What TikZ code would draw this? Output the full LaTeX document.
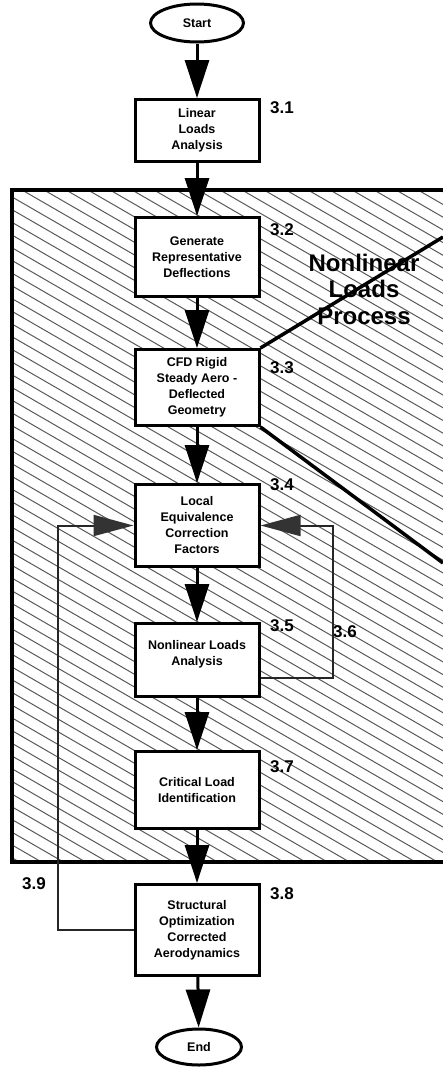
\documentclass[tikz,border=0pt]{standalone}
\usepackage{fontspec}
\setmainfont{Liberation Sans}
\usetikzlibrary{shapes.geometric,arrows.meta}
\begin{document}
\begin{tikzpicture}[x=1pt,y=-1pt,
  box/.style={draw,line width=3pt,fill=white,minimum width=124pt,inner sep=2pt,align=center,
    font=\bfseries\fontsize{12.5}{16}\selectfont},
  term/.style={draw,ellipse,line width=3pt,fill=white,inner sep=0pt,
    font=\bfseries\fontsize{12.5}{14}\selectfont},
  num/.style={anchor=west,inner sep=0pt,font=\bfseries\fontsize{17}{20}\selectfont},
  flow/.style={line width=3pt,-{Triangle[length=38pt,width=24pt]}},
  loopline/.style={line width=2pt,draw=black!85,-{Triangle[length=40pt,width=21pt,color=black!80,fill=black!80]}},
  hatch/.style={line width=1pt,draw=black!65},
  callout/.style={line width=3.5pt},
  frame/.style={line width=4pt}
]
\useasboundingbox (0,0) rectangle (443,1069);
\clip (0,0) rectangle (443,1069);

% hatched region
\begin{scope}
  \clip (12,190) rectangle (460,862);
  \foreach \i in {-54,...,22}
    \draw[hatch] (\i*22,190) -- ++(1212,700);
\end{scope}
\draw[frame] (12,190) rectangle (460,862);

% nodes
\node[term,minimum width=93pt,minimum height=38pt] (start) at (197,23) {Start};
\node[box,minimum height=62pt] (B31) at (197,130.5) {Linear\\Loads\\Analysis};
\node[box,minimum height=79pt] (B32) at (197,257) {Generate\\Representative\\Deflections};
\node[box,minimum height=76pt] (B33) at (197,387.5) {CFD Rigid\\Steady Aero -\\Deflected\\Geometry};
\node[box,minimum height=82pt] (B34) at (197,525.5) {Local\\Equivalence\\Correction\\Factors};
\node[box,minimum height=73pt,text depth=14pt] (B35) at (197,660) {Nonlinear Loads\\Analysis};
\node[box,minimum height=77pt] (B37) at (197,790) {Critical Load\\Identification};
\node[box,minimum height=91pt] (B38) at (197,930) {Structural\\Optimization\\Corrected\\Aerodynamics};
\node[term,minimum width=85pt,minimum height=36pt] (end) at (199,1047) {End};

% callout lines and title
\coordinate (c1) at (443,237);
\coordinate (c2) at (443,563);
\draw[callout] (B33.north east) -- (c1);
\draw[callout] (B33.south east) -- (c2);
\node[inner sep=0pt,align=center,font=\bfseries\fontsize{24}{26.5}\selectfont] (title) at (364,289) {Nonlinear\\Loads\\Process};

% labels
\node[num] (n31) at (270,108) {3.1};
\node[num] (n32) at (270,230) {3.2};
\node[num] (n33) at (270,368) {3.3};
\node[num] (n34) at (270,485) {3.4};
\node[num] (n35) at (270,626) {3.5};
\node[num] (n36) at (333,632) {3.6};
\node[num] (n37) at (270,767) {3.7};
\node[num] (n38) at (270,894) {3.8};
\node[num] (n39) at (22,884) {3.9};

% flow arrows
\draw[flow] (start) -- (B31);
\draw[flow] (B31) -- (B32);
\draw[flow] (B32) -- (B33);
\draw[flow] (B33) -- (B34);
\draw[flow] (B34) -- (B35);
\draw[flow] (B35) -- (B37);
\draw[flow] (B37) -- (B38);
\draw[flow] (B38) -- (end);

% feedback loops
\draw[loopline] ([yshift=20pt]B35.south east) -- ++(72,0) |- (B34.east);
\draw[loopline] (B38.west) -- ++(-76,0) |- (B34.west);
\end{tikzpicture}
\end{document}
